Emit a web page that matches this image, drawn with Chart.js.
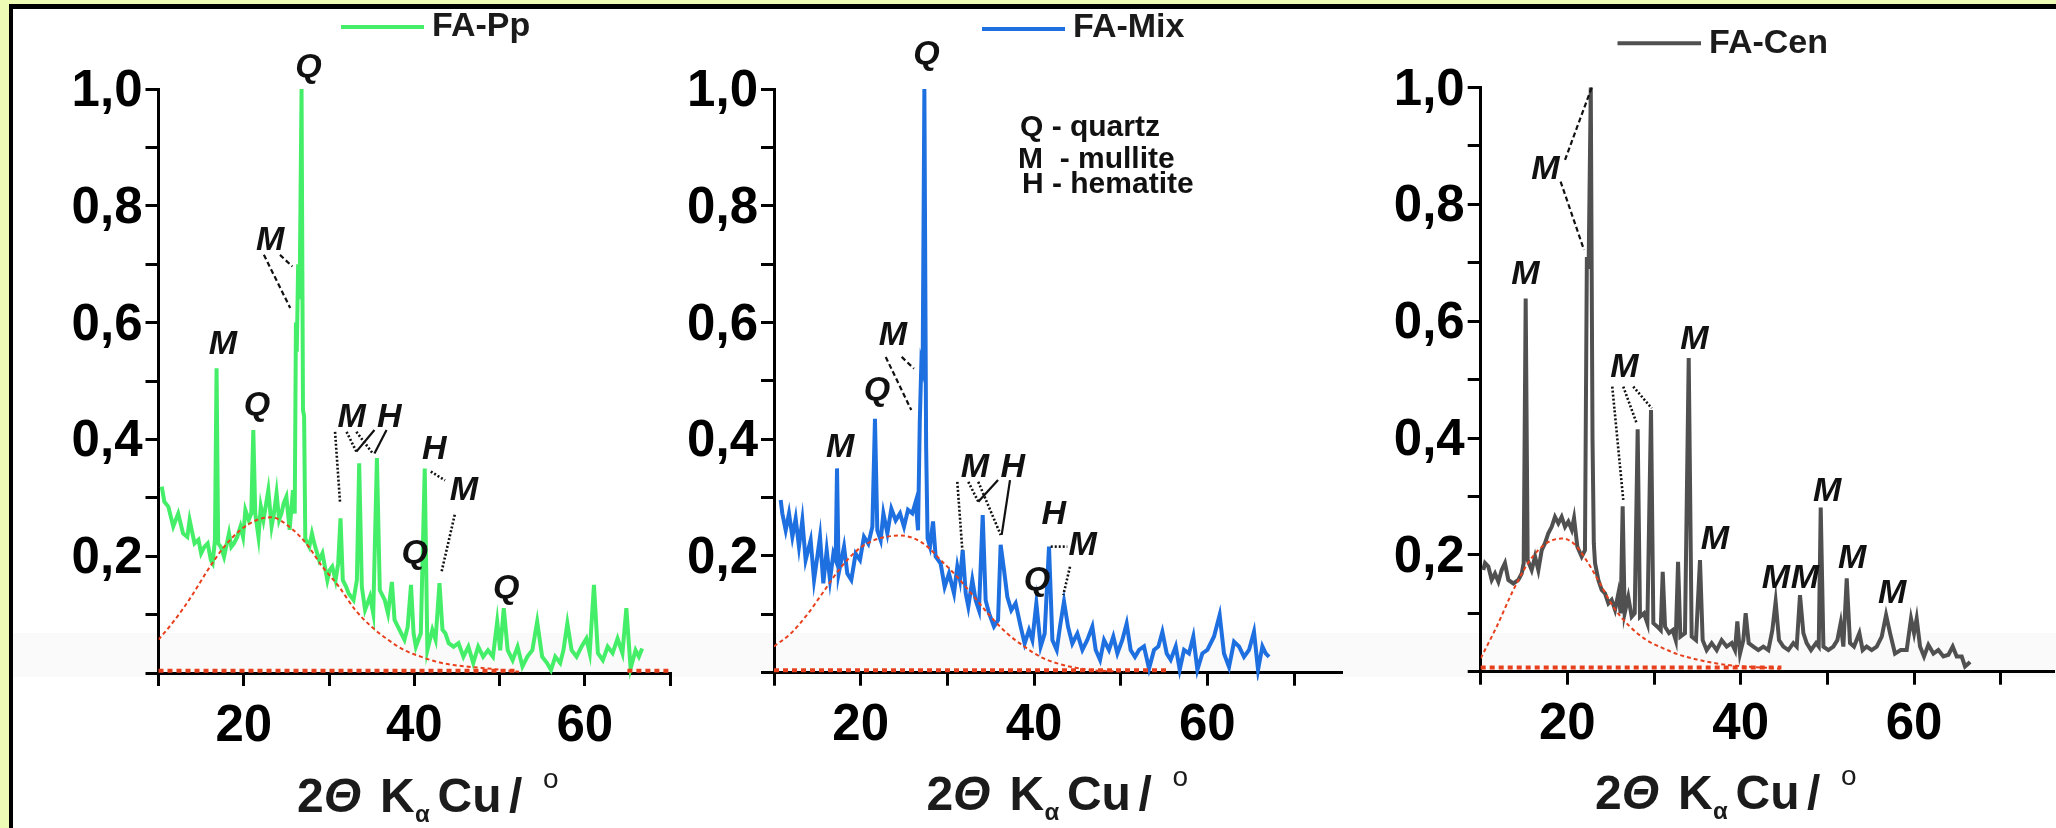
<!DOCTYPE html>
<html>
<head>
<meta charset="utf-8">
<script src="https://cdn.jsdelivr.net/npm/chart.js@4.4.1/dist/chart.umd.min.js"></script>
<style>
  html, body { margin: 0; padding: 0; }
  body { width: 2056px; height: 828px; background: #eefbb4; position: relative; overflow: hidden; }
  #frame { position: absolute; left: 9px; top: 4px; right: 0; bottom: 0; background: #fff; border-left: 4px solid #000; border-top: 5px solid #000; }
  #band { position: absolute; left: 13px; right: 0; top: 633px; height: 44px; background: #fafafa; }
  .panel { position: absolute; top: 0; height: 828px; }
</style>
</head>
<body>
<div id="frame"></div>
<div id="band"></div>
<div class="panel" style="left:0;width:680px"><canvas id="c1"></canvas></div>
<div class="panel" style="left:680px;width:680px"><canvas id="c2"></canvas></div>
<div class="panel" style="left:1360px;width:696px"><canvas id="c3"></canvas></div>
<script>
// FA-Pp
const ppX = [10.38, 10.69, 11.15, 11.73, 12.31, 12.88, 13.38, 13.65, 14.23, 14.69,
  15.00, 15.38, 15.77, 16.15, 16.35, 16.62, 16.81, 17.00, 17.31, 17.69,
  18.27, 18.54, 18.85, 19.23, 19.62, 19.92, 20.19, 20.58, 20.88, 21.12,
  21.35, 21.73, 22.00, 22.31, 22.88, 23.27, 23.54, 23.85, 24.15, 24.42,
  24.69, 25.00, 25.38, 25.77, 25.98, 26.12, 26.22, 26.38, 26.55, 26.78,
  26.95, 27.08, 27.22, 27.69, 28.00, 28.27, 28.85, 29.23, 29.81, 30.08,
  30.38, 30.77, 31.08, 31.35, 31.62, 32.00, 32.31, 32.88, 33.27, 33.54,
  33.85, 34.23, 34.81, 35.19, 35.62, 35.96, 36.54, 36.92, 37.38, 37.69,
  38.27, 38.85, 39.23, 39.62, 39.92, 40.19, 40.77, 41.23, 41.54, 42.12,
  42.50, 42.96, 43.31, 43.65, 44.04, 44.62, 45.19, 45.77, 46.35, 46.92,
  47.50, 48.08, 48.65, 49.23, 49.73, 50.08, 50.50, 50.96, 51.54, 52.12,
  52.69, 53.27, 53.85, 54.42, 55.00, 55.58, 56.04, 56.54, 57.12, 57.50,
  57.96, 58.46, 59.04, 59.62, 60.19, 60.58, 61.08, 61.54, 62.12, 62.69,
  63.27, 63.85, 64.42, 64.88, 65.38, 65.96, 66.35, 66.73];
const ppY = [0.319, 0.293, 0.285, 0.251, 0.273, 0.239, 0.233, 0.262, 0.222, 0.228,
  0.205, 0.216, 0.222, 0.193, 0.188, 0.228, 0.522, 0.222, 0.216, 0.199,
  0.239, 0.216, 0.222, 0.233, 0.251, 0.233, 0.279, 0.262, 0.273, 0.416,
  0.273, 0.233, 0.285, 0.262, 0.313, 0.251, 0.273, 0.308, 0.262, 0.273,
  0.291, 0.302, 0.245, 0.313, 0.273, 0.600, 0.550, 0.700, 0.640, 1.000,
  0.450, 0.440, 0.230, 0.216, 0.239, 0.222, 0.193, 0.205, 0.159, 0.176,
  0.182, 0.159, 0.188, 0.265, 0.159, 0.148, 0.136, 0.125, 0.159, 0.359,
  0.148, 0.108, 0.131, 0.102, 0.368, 0.142, 0.125, 0.102, 0.156, 0.091,
  0.074, 0.057, 0.079, 0.151, 0.068, 0.045, 0.068, 0.350, 0.039, 0.074,
  0.057, 0.154, 0.074, 0.068, 0.051, 0.045, 0.051, 0.028, 0.045, 0.017,
  0.045, 0.028, 0.039, 0.028, 0.088, 0.039, 0.111, 0.039, 0.022, 0.045,
  0.011, 0.028, 0.039, 0.088, 0.028, 0.017, 0.005, 0.028, 0.017, 0.039,
  0.085, 0.039, 0.028, 0.045, 0.059, 0.034, 0.151, 0.034, 0.022, 0.045,
  0.034, 0.059, 0.034, 0.111, 0.008, 0.039, 0.028, 0.042];
const ppFitX = [10, 11.92, 13.85, 15.77, 17.69, 19.62, 21.54, 23.27, 25.38, 27.31, 29.23,
  31.15, 33.08, 35.0, 36.92, 38.85, 40.77, 42.69, 44.62, 48.46, 52.3];
const ppFitY = [0.057, 0.091, 0.131, 0.176, 0.216, 0.245, 0.262, 0.2665, 0.25, 0.222, 0.182,
  0.148, 0.108, 0.079, 0.057, 0.039, 0.028, 0.019, 0.0137, 0.008, 0.002];
const ppBaseX = [10, 52.2, 52.3, 65, 70];
const ppBaseY = [0.004, 0.004, null, 0.004, 0.004];

// FA-Mix
const mixX = [10.77, 10.96, 11.35, 11.73, 12.12, 12.50, 12.88, 13.27, 13.65, 14.23,
  14.62, 15.00, 15.31, 15.69, 16.08, 16.46, 16.85, 17.12, 17.27, 17.46,
  18.08, 18.46, 18.92, 19.42, 19.92, 20.38, 20.88, 21.35, 21.65, 21.92,
  22.31, 22.62, 23.08, 23.54, 24.04, 24.54, 25.00, 25.46, 25.96, 26.35,
  26.62, 26.82, 27.00, 27.15, 27.35, 27.55, 27.72, 28.00, 28.35, 28.65,
  29.23, 29.69, 30.19, 30.77, 31.15, 31.46, 31.77, 32.12, 32.42, 32.88,
  33.27, 33.65, 34.08, 34.42, 34.81, 35.38, 35.85, 36.15, 36.54, 36.92,
  37.38, 37.88, 38.46, 38.92, 39.42, 39.81, 40.27, 40.77, 41.23, 41.73,
  42.12, 42.62, 43.00, 43.46, 43.92, 44.42, 45.00, 45.58, 46.15, 46.73,
  47.12, 47.62, 48.08, 48.65, 49.15, 49.62, 50.19, 50.69, 51.15, 51.65,
  52.12, 52.69, 53.27, 53.85, 54.35, 54.81, 55.31, 55.77, 56.35, 56.81,
  57.31, 57.88, 58.38, 58.85, 59.42, 60.00, 60.77, 61.42, 61.92, 62.50,
  63.08, 63.65, 64.23, 64.81, 65.38, 65.85, 66.35, 66.73, 67.12];
const mixY = [0.296, 0.273, 0.244, 0.273, 0.233, 0.264, 0.216, 0.261, 0.193, 0.227,
  0.159, 0.199, 0.233, 0.153, 0.210, 0.159, 0.204, 0.193, 0.350, 0.170,
  0.216, 0.170, 0.159, 0.204, 0.193, 0.233, 0.221, 0.250, 0.435, 0.244,
  0.227, 0.273, 0.239, 0.281, 0.261, 0.273, 0.250, 0.279, 0.273, 0.293,
  0.244, 0.430, 0.530, 0.520, 1.000, 0.390, 0.230, 0.216, 0.259, 0.199,
  0.187, 0.147, 0.170, 0.136, 0.182, 0.159, 0.210, 0.136, 0.113, 0.159,
  0.124, 0.107, 0.270, 0.124, 0.102, 0.079, 0.090, 0.219, 0.176, 0.130,
  0.107, 0.119, 0.079, 0.050, 0.073, 0.056, 0.119, 0.045, 0.067, 0.216,
  0.056, 0.039, 0.079, 0.122, 0.079, 0.050, 0.067, 0.039, 0.056, 0.079,
  0.039, 0.022, 0.056, 0.039, 0.062, 0.033, 0.056, 0.084, 0.039, 0.027,
  0.039, 0.045, 0.007, 0.039, 0.045, 0.070, 0.033, 0.022, 0.045, 0.005,
  0.039, 0.033, 0.062, 0.005, 0.033, 0.039, 0.062, 0.099, 0.033, 0.010,
  0.053, 0.045, 0.027, 0.039, 0.070, 0.005, 0.045, 0.033, 0.027];
const mixFitX = [10, 11.92, 13.85, 15.77, 17.69, 19.62, 21.54, 23.46, 24.6, 26.15, 27.69,
  29.23, 31.15, 33.08, 35.0, 36.92, 38.85, 40.77, 42.69, 44.62, 46.54, 50.4];
const mixFitY = [0.045, 0.067, 0.10, 0.14, 0.18, 0.21, 0.227, 0.234, 0.235, 0.23, 0.216,
  0.193, 0.164, 0.13, 0.096, 0.067, 0.045, 0.027, 0.016, 0.009, 0.0046, 0.002];
const mixBaseX = [10, 55.3];
const mixBaseY = [0.004, 0.004];

// FA-Cen
const cenX = [10.30, 10.50, 10.88, 11.27, 11.65, 12.04, 12.42, 12.80, 13.19, 13.77,
  14.34, 14.73, 14.96, 15.19, 15.42, 15.88, 16.27, 16.65, 17.04, 17.42,
  17.80, 18.19, 18.57, 18.96, 19.34, 19.73, 20.11, 20.50, 20.77, 21.15,
  21.65, 22.03, 22.25, 22.45, 22.70, 22.90, 23.05, 23.19, 23.57, 23.96,
  24.34, 24.73, 25.11, 25.50, 25.88, 26.15, 26.38, 26.61, 27.03, 27.42,
  27.77, 28.11, 28.38, 28.84, 29.23, 29.65, 29.92, 30.38, 30.77, 31.00,
  31.27, 31.73, 32.15, 32.50, 32.77, 33.04, 33.57, 34.00, 34.34, 34.84,
  35.30, 35.61, 36.07, 36.65, 37.23, 37.80, 38.38, 38.96, 39.34, 39.61,
  39.92, 40.30, 40.57, 40.92, 41.46, 42.03, 42.61, 43.19, 43.65, 44.03,
  44.42, 44.92, 45.50, 46.07, 46.46, 46.84, 47.23, 47.61, 48.11, 48.69,
  49.00, 49.23, 49.54, 50.11, 50.69, 51.15, 51.53, 51.84, 52.23, 52.61,
  53.07, 53.69, 54.07, 54.53, 55.11, 55.69, 56.27, 56.77, 57.23, 57.80,
  58.46, 59.15, 59.65, 60.00, 60.30, 60.69, 61.15, 61.65, 62.23, 62.80,
  63.38, 63.96, 64.46, 64.92, 65.50, 65.88, 66.27, 66.46];
const cenY = [0.174, 0.186, 0.180, 0.157, 0.168, 0.154, 0.174, 0.186, 0.157, 0.151,
  0.157, 0.168, 0.186, 0.639, 0.191, 0.174, 0.197, 0.174, 0.208, 0.220,
  0.237, 0.248, 0.265, 0.254, 0.265, 0.248, 0.257, 0.243, 0.263, 0.214,
  0.197, 0.208, 0.710, 0.690, 1.000, 0.400, 0.220, 0.186, 0.157, 0.140,
  0.134, 0.117, 0.123, 0.106, 0.134, 0.100, 0.283, 0.100, 0.128, 0.094,
  0.100, 0.415, 0.094, 0.100, 0.083, 0.448, 0.083, 0.077, 0.071, 0.171,
  0.077, 0.066, 0.071, 0.054, 0.188, 0.060, 0.066, 0.537, 0.060, 0.054,
  0.191, 0.054, 0.037, 0.049, 0.037, 0.054, 0.043, 0.049, 0.037, 0.086,
  0.031, 0.054, 0.100, 0.049, 0.043, 0.037, 0.043, 0.037, 0.071, 0.120,
  0.054, 0.043, 0.037, 0.049, 0.043, 0.131, 0.066, 0.049, 0.037, 0.049,
  0.043, 0.281, 0.043, 0.037, 0.043, 0.054, 0.083, 0.043, 0.160, 0.049,
  0.043, 0.066, 0.037, 0.043, 0.037, 0.043, 0.060, 0.097, 0.066, 0.031,
  0.037, 0.037, 0.091, 0.066, 0.091, 0.043, 0.026, 0.046, 0.031, 0.037,
  0.026, 0.029, 0.043, 0.026, 0.026, 0.009, 0.014, 0.017];
const cenFitX = [10, 11.84, 13.77, 15.69, 17.61, 19.34, 20.69, 22.23, 23.77, 25.3, 27.23,
  29.15, 31.07, 33.0, 34.92, 36.84, 38.77, 40.69, 42.61, 44.53];
const cenFitY = [0.023, 0.077, 0.14, 0.191, 0.22, 0.228, 0.22, 0.19, 0.151, 0.111, 0.077,
  0.054, 0.04, 0.0285, 0.021, 0.015, 0.011, 0.0086, 0.007, 0.005];
const cenBaseX = [10, 44.7];
const cenBaseY = [0.007, 0.007];

// phase labels [text, 2theta, intensity]
const ppMarks = [['Q', 27.6, 1.036], ['M', 23.1, 0.741], ['M', 17.56, 0.563], ['Q', 21.54, 0.457],
  ['M', 32.67, 0.437], ['H', 37.06, 0.437], ['H', 42.36, 0.383], ['M', 45.83, 0.312],
  ['Q', 40.06, 0.204], ['Q', 50.79, 0.144]];
const mixMarks = [['Q', 27.6, 1.059], ['M', 23.73, 0.578], ['Q', 21.88, 0.484], ['M', 17.62, 0.386],
  ['M', 33.19, 0.352], ['H', 37.54, 0.352], ['H', 42.27, 0.27], ['M', 45.6, 0.217], ['Q', 40.35, 0.158]];
const cenMarks = [['M', 17.48, 0.859], ['M', 15.17, 0.679], ['M', 26.59, 0.5205], ['M', 34.67, 0.568],
  ['M', 37.03, 0.2255], ['M', 44.07, 0.16], ['M', 47.42, 0.16], ['M', 49.96, 0.309],
  ['M', 52.85, 0.193], ['M', 57.46, 0.133]];

// leader lines [x1, y1, x2, y2, kind]
const ppLeaders = [[22.36, 0.716, 25.45, 0.625, 'dash'], [24.25, 0.716, 25.7, 0.696, 'dash'],
  [30.71, 0.413, 31.29, 0.293, 'dot'], [32.06, 0.413, 33.21, 0.379, 'dot'], [33.21, 0.413, 35.13, 0.376, 'dot'],
  [35.33, 0.416, 33.21, 0.379, 'solid'], [36.75, 0.416, 35.33, 0.376, 'solid'],
  [41.94, 0.345, 43.6, 0.330, 'dot'], [44.75, 0.271, 43.2, 0.173, 'dot']];
const mixLeaders = [[22.89, 0.541, 25.84, 0.450, 'dash'], [24.73, 0.541, 26.15, 0.521, 'dash'],
  [31.15, 0.327, 31.73, 0.210, 'dot'], [32.42, 0.327, 33.57, 0.293, 'dot'], [33.57, 0.327, 36.16, 0.236, 'dot'],
  [35.85, 0.330, 33.57, 0.293, 'solid'], [37.23, 0.330, 36.27, 0.236, 'solid'],
  [41.93, 0.216, 43.84, 0.216, 'dot'], [44.15, 0.1815, 43.38, 0.133, 'dot']];
const cenLeaders = [[19.73, 0.876, 22.81, 1.0, 'dash'], [19.22, 0.839, 21.92, 0.722, 'dash'],
  [25.18, 0.488, 26.45, 0.294, 'dot'], [26.45, 0.488, 28.0, 0.425, 'dot'], [27.6, 0.488, 29.73, 0.451, 'dot']];

const phaseNotes = [['Q - quartz', 38.38, 0.919], ['M  - mullite', 38.15, 0.864], ['H - hematite', 38.61, 0.821]];

const FONT = '"Liberation Sans", Arial, sans-serif';
Chart.defaults.font.family = FONT;

function pts(xs, ys) {
  return xs.map((x, i) => ({ x: x, y: ys[i] }));
}

function decor(cfg) {
  return {
    id: 'decor',
    afterDraw(chart) {
      const ctx = chart.ctx;
      const X = v => chart.scales.x.getPixelForValue(v);
      const Y = v => chart.scales.y.getPixelForValue(v);
      ctx.save();

      cfg.leaders.forEach(l => {
        ctx.beginPath();
        ctx.strokeStyle = '#111';
        if (l[4] === 'dash') { ctx.setLineDash([5, 3]); ctx.lineWidth = 2.2; }
        else if (l[4] === 'dot') { ctx.setLineDash([2, 2]); ctx.lineWidth = 2.6; }
        else { ctx.setLineDash([]); ctx.lineWidth = 2.2; }
        ctx.moveTo(X(l[0]), Y(l[1]));
        ctx.lineTo(X(l[2]), Y(l[3]));
        ctx.stroke();
      });
      ctx.setLineDash([]);

      ctx.fillStyle = '#111';
      ctx.font = 'italic bold 34px ' + FONT;
      ctx.textAlign = 'center';
      ctx.textBaseline = 'middle';
      cfg.marks.forEach(m => ctx.fillText(m[0], X(m[1]), Y(m[2])));

      if (cfg.notes) {
        ctx.font = 'bold 30px ' + FONT;
        ctx.textAlign = 'left';
        ctx.textBaseline = 'alphabetic';
        cfg.notes.forEach(n => ctx.fillText(n[0], X(n[1]), Y(n[2])));
      }

      // legend
      const ds = chart.data.datasets[0];
      const lg = cfg.legend;
      ctx.strokeStyle = ds.borderColor;
      ctx.lineWidth = 4;
      ctx.beginPath();
      ctx.moveTo(lg[0], lg[2]);
      ctx.lineTo(lg[1], lg[2]);
      ctx.stroke();
      ctx.fillStyle = '#1b1b1b';
      ctx.font = 'bold 34px ' + FONT;
      ctx.textAlign = 'left';
      ctx.textBaseline = 'middle';
      ctx.fillText(ds.label, lg[1] + 8, lg[3]);

      // axis title
      const t = cfg.title;
      ctx.textBaseline = 'alphabetic';
      const parts = [
        ['2', 0, 0, 'bold 48px '],
        ['\u0398', 26.7, 0, 'italic bold 48px '],
        ['K', 83, 0, 'bold 48px '],
        ['\u03b1', 118, 10, 'bold 24px '],
        ['Cu', 140.5, 0, 'bold 48px '],
        ['/', 212, 0, 'bold 48px '],
        ['o', 246, -24, '28px ']
      ];
      parts.forEach(p => {
        ctx.font = p[3] + FONT;
        ctx.fillText(p[0], t[0] + p[1], t[1] + p[2]);
      });
      ctx.restore();
    }
  };
}

function axes(xMax, yWidth, xHeight) {
  const grid = { drawOnChartArea: false, drawTicks: true, tickLength: 13, color: '#000', lineWidth: 3 };
  const border = { display: true, color: '#000', width: 3 };
  return {
    x: {
      type: 'linear', min: 10, max: xMax,
      grid: grid, border: border,
      ticks: {
        stepSize: 10, includeBounds: false, autoSkip: false, maxRotation: 0, padding: 10,
        color: '#000', font: { size: 51, weight: 'bold' },
        callback: v => (v === 20 || v === 40 || v === 60) ? String(v) : ''
      },
      afterFit: s => { s.height = xHeight; }
    },
    y: {
      min: 0, max: 1,
      grid: grid, border: border,
      ticks: {
        stepSize: 0.1, autoSkip: false, padding: 3, labelOffset: 3,
        color: '#000', font: { size: 51, weight: 'bold' },
        callback: v => {
          const k = Math.round(v * 10);
          return (k > 0 && k % 2 === 0) ? (k / 10).toFixed(1).replace('.', ',') : '';
        }
      },
      afterFit: s => { s.width = yWidth; }
    }
  };
}

function makeChart(id, p) {
  return new Chart(document.getElementById(id), {
    type: 'line',
    data: {
      datasets: [
        { label: p.label, data: pts(p.xs, p.ys), borderColor: p.color, borderWidth: 4,
          pointRadius: 0, tension: 0, order: 2, clip: 8 },
        { label: 'fit', data: pts(p.fitX, p.fitY), borderColor: '#e8401c', borderWidth: 2,
          borderDash: [4, 3], pointRadius: 0, tension: 0.4, cubicInterpolationMode: 'monotone', order: 1 },
        { label: 'base', data: pts(p.baseX, p.baseY), borderColor: '#e8401c', borderWidth: 4,
          borderDash: [5, 4], pointRadius: 0, spanGaps: false, order: 0, clip: 8 }
      ]
    },
    options: {
      responsive: true,
      maintainAspectRatio: false,
      animation: false,
      events: [],
      layout: { padding: { top: p.top, right: p.right, left: 0, bottom: 0 } },
      plugins: { legend: { display: false }, tooltip: { enabled: false } },
      scales: axes(p.xMax, p.yWidth, p.xHeight)
    },
    plugins: [decor(p.decor)]
  });
}

makeChart('c1', {
  label: 'FA-Pp', color: '#45ee68', xs: ppX, ys: ppY, fitX: ppFitX, fitY: ppFitY,
  baseX: ppBaseX, baseY: ppBaseY, xMax: 70, yWidth: 158.5, xHeight: 155, top: 89, right: 1.5,
  decor: { marks: ppMarks, leaders: ppLeaders, legend: [341, 424, 27, 26.5], title: [297, 811.5] }
});
makeChart('c2', {
  label: 'FA-Mix', color: '#1e6fe0', xs: mixX, ys: mixY, fitX: mixFitX, fitY: mixFitY,
  baseX: mixBaseX, baseY: mixBaseY, xMax: 75.42, yWidth: 94, xHeight: 155.3, top: 89, right: 19,
  decor: { marks: mixMarks, leaders: mixLeaders, notes: phaseNotes, legend: [302, 385, 29, 27.5], title: [246.4, 810.3] }
});
makeChart('c3', {
  label: 'FA-Cen', color: '#505050', xs: cenX, ys: cenY, fitX: cenFitX, fitY: cenFitY,
  baseX: cenBaseX, baseY: cenBaseY, xMax: 76.03, yWidth: 120.7, xHeight: 156.3, top: 87.5, right: 3,
  decor: { marks: cenMarks, leaders: cenLeaders, legend: [257.5, 341, 43.3, 43.5], title: [235, 808.6] }
});
</script>
</body>
</html>
